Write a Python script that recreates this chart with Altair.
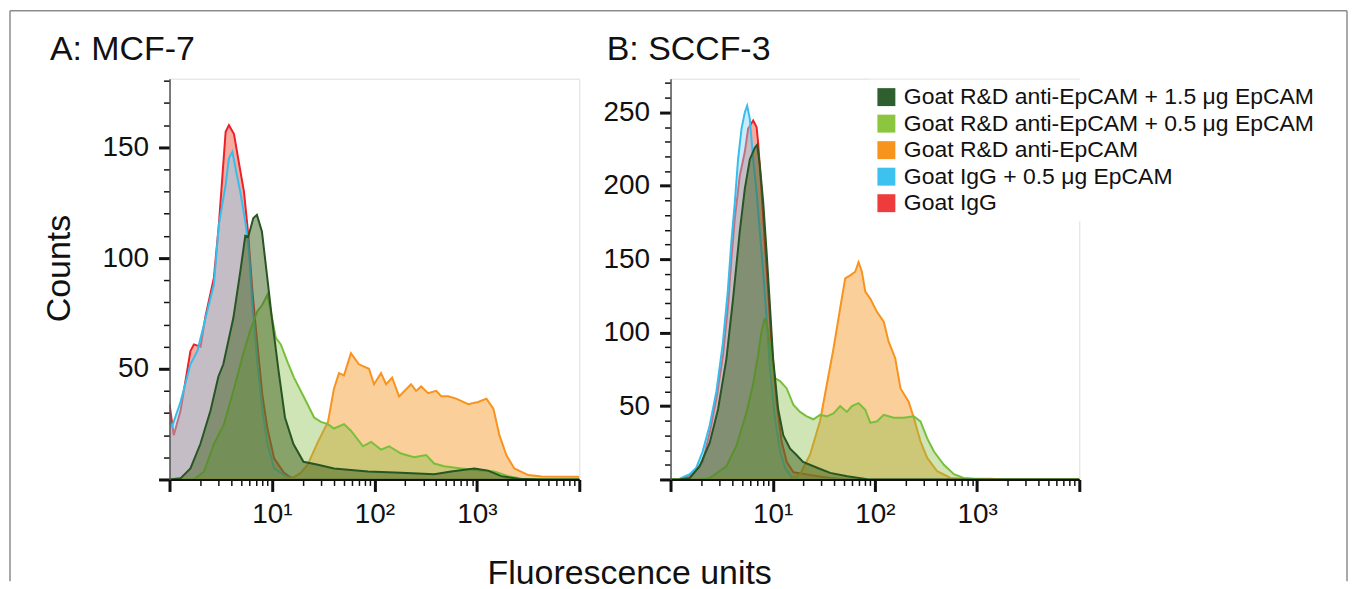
import altair as alt
import pandas as pd

FONT = "Liberation Sans"

series_names = [
    "Goat R&D anti-EpCAM + 1.5 \u03bcg EpCAM",
    "Goat R&D anti-EpCAM + 0.5 \u03bcg EpCAM",
    "Goat R&D anti-EpCAM",
    "Goat IgG + 0.5 \u03bcg EpCAM",
    "Goat IgG",
]
swatch_colors = ["#2f5f2f", "#8cc63f", "#f7941d", "#3ec1ef", "#ee3b3b"]
line_colors = ["#275523", "#78bf3c", "#f7931e", "#36bdee", "#ec2227"]
fill_colors = ["#3f611f", "#86bd47", "#f7941d", "#89d2f1", "#e8452c"]
fill_opacity = [0.5, 0.4, 0.45, 0.45, 0.45]
draw_order = [4, 3, 2, 1, 0]

# ---------------- Panel A: MCF-7 ----------------
A_dg_x = [1.0, 1.28, 1.60, 2.00, 2.51, 3.00, 3.35, 4.20, 4.91, 5.49, 5.87, 6.57, 7.13, 7.98, 8.93, 9.98, 11.6, 13.4, 16.2, 20.3, 27.4, 40.3, 86.5, 182, 383, 562, 944, 1290, 1730, 2540, 4270, 10000]
A_dg_y = [0, 0.5, 5, 16, 31, 46.5, 52, 73, 94, 110, 109.6, 118, 119.5, 112, 92.5, 73, 49, 28, 16, 8, 6.8, 5, 3.6, 3, 2.4, 3.6, 5, 4, 1.5, 0.3, 0, 0]

A_lg_x = [1.0, 1.73, 2.17, 2.71, 3.40, 4.26, 5.33, 6.21, 7.21, 8.07, 9.04, 9.73, 10.9, 12.2, 14.2, 16.4, 20.6, 25.8, 30.0, 35.2, 40.3, 50.5, 59.0, 77.3, 92.7, 116, 139, 182, 244, 320, 383, 480, 703, 1100, 1480, 2030, 2720, 4780, 10000]
A_lg_y = [0, 0, 3.6, 16, 25, 41, 58, 68, 76, 79, 83.5, 76, 64, 61, 53, 46, 37, 28, 26, 25, 23, 25, 22, 15, 17, 13.5, 15, 11.7, 10, 11, 7.2, 6, 5, 4, 3.6, 1.5, 0.3, 0, 0]

A_or_x = [1.0, 12.2, 16.3, 19.1, 22.4, 28.1, 35.2, 40.3, 45.1, 50.5, 59.0, 70.6, 88.5, 99.1, 116, 130, 149, 174, 228, 255, 286, 334, 401, 449, 525, 628, 824, 1030, 1240, 1450, 1660, 1940, 2320, 3180, 4270, 10000]
A_or_y = [0, 0, 1, 3, 6.8, 17, 26, 41, 48, 47, 57, 52, 50, 43, 48, 43, 46, 37.5, 43, 40, 42, 39, 40, 37.6, 37.6, 36.5, 34, 35, 36.5, 32, 20, 11, 5, 2, 1.3, 1.2]

A_bl_x = [1.0, 1.06, 1.28, 1.60, 1.87, 2.25, 2.71, 3.03, 3.53, 3.80, 4.11, 4.43, 4.95, 5.55, 5.97, 6.44, 7.21, 8.07, 9.04, 10.5, 13.1, 16.4, 10000]
A_bl_y = [26, 24, 35, 52, 58, 73, 88, 115, 133, 145, 148, 140, 129, 115, 103, 80, 52, 31, 16, 5, 2, 0, 0]

A_rd_x = [1.0, 1.10, 1.28, 1.60, 1.73, 2.01, 2.25, 2.71, 3.03, 3.27, 3.53, 3.80, 4.26, 4.76, 5.33, 5.83, 6.44, 7.21, 8.07, 9.04, 10.5, 13.1, 16.4, 10000]
A_rd_y = [34, 20, 31, 58, 61, 60, 74, 91, 115, 136, 157, 160, 156, 143, 130, 112, 85, 61, 38, 23, 9.5, 3, 0, 0]

# ---------------- Panel B: SCCF-3 ----------------
B_dg_x = [1.0, 1.22, 1.54, 1.93, 2.42, 2.92, 3.52, 4.09, 4.76, 5.33, 5.97, 6.68, 7.05, 7.48, 8.07, 8.71, 9.38, 10.1, 11.3, 12.7, 14.8, 17.2, 19.8, 27.2, 36.5, 53.6, 84.1, 113, 10000]
B_dg_y = [0, 0, 1, 9, 25, 48, 82, 123, 169, 198, 218, 226, 228, 214, 189, 155, 119, 82, 48, 30, 21, 16.5, 12, 8, 4.5, 2.2, 0.2, 0, 0]

B_lg_x = [1.0, 1.93, 2.42, 3.52, 4.42, 5.55, 6.43, 7.21, 7.78, 8.37, 9.04, 9.75, 10.5, 11.8, 13.7, 15.9, 18.5, 21.5, 25.0, 29.1, 33.8, 39.3, 45.7, 53.2, 59.6, 69.2, 80.5, 90.2, 105, 122, 153, 191, 240, 279, 325, 378, 473, 593, 738, 1080, 10000]
B_lg_y = [0, 0, 1, 9, 23, 46, 65, 85, 101, 110, 101, 82, 69, 67, 62, 51, 46, 43, 41, 44, 43, 45, 50, 46, 50, 52, 47.5, 38.5, 39.6, 44, 42, 42, 43, 39.6, 28, 19, 10, 3.6, 1, 0, 0]

B_or_x = [1.0, 14.8, 18.5, 23.2, 29.1, 33.8, 39.3, 45.7, 51.2, 57.3, 64.1, 69.2, 74.6, 80.5, 90.2, 105, 122, 136, 158, 178, 214, 240, 279, 325, 407, 551, 738, 1360, 1710, 10000]
B_or_y = [0, 0, 3.6, 17, 40, 64.5, 89, 116.6, 137, 139, 141.5, 148, 141.5, 128, 123, 114, 107.5, 94, 82.6, 62, 53, 42, 26, 14.7, 5.6, 1, 0.5, 0.5, 0, 0]

B_bl_x = [1.0, 1.22, 1.54, 1.79, 2.06, 2.42, 2.81, 3.24, 3.63, 3.94, 4.26, 4.58, 4.95, 5.33, 5.62, 5.97, 6.43, 6.95, 7.48, 8.07, 8.71, 9.38, 10.5, 11.8, 13.2, 15.3, 18.5, 10000]
B_bl_y = [0, 0.3, 3.6, 8, 19, 37, 60, 92, 128, 162, 189, 218, 239, 250, 254.6, 245.6, 218, 196, 169, 141.5, 110, 76, 42, 19, 8, 1.4, 0, 0]

B_rd_x = [1.0, 1.22, 1.64, 2.06, 2.42, 2.81, 3.27, 3.66, 3.94, 4.26, 4.76, 5.33, 5.75, 6.44, 6.95, 7.21, 7.78, 8.37, 9.04, 9.75, 10.9, 12.2, 13.7, 15.9, 23.2, 36.5, 57.3, 10000]
B_rd_y = [0, 0, 3.6, 12, 32, 55, 85, 119, 150, 178, 207, 223, 239, 244.5, 240, 229, 196, 162, 128, 92, 53, 26, 12, 5, 3, 1, 0, 0]

x_tick_values = [1, 2, 3, 4, 5, 6, 7, 8, 9,
                 10, 20, 30, 40, 50, 60, 70, 80, 90,
                 100, 200, 300, 400, 500, 600, 700, 800, 900,
                 1000, 2000, 3000, 4000, 5000, 6000, 7000, 8000, 9000, 10000]

MAJOR_X = "datum.value === 1 || datum.value === 10 || datum.value === 100 || datum.value === 1000 || datum.value === 10000"


def x_axis():
    return alt.Axis(
        values=x_tick_values,
        title=None,
        grid=False,
        labelExpr="datum.value === 10 ? '10\u00b9' : datum.value === 100 ? '10\u00b2' : datum.value === 1000 ? '10\u00b3' : ''",
        labelFont=FONT, labelFontSize=28, labelColor="#111",
        labelPadding=9, labelOverlap=False, labelFlush=False,
        tickColor="#111",
        tickSize={"condition": {"test": MAJOR_X, "value": 12}, "value": 6},
        tickWidth={"condition": {"test": MAJOR_X, "value": 3}, "value": 1.5},
        domainColor="#111", domainWidth=2, zindex=1,
    )


def y_axis(vals, title):
    kw = dict(
        values=vals,
        grid=False,
        format="d",
        labelExpr="datum.value % 50 === 0 && datum.value > 0 ? datum.label : ''",
        labelFont=FONT, labelFontSize=28, labelColor="#111",
        labelPadding=10, labelOverlap=False, labelFlush=False,
        tickColor="#111",
        tickSize={"condition": {"test": "datum.value % 50 === 0", "value": 11}, "value": 6},
        tickWidth={"condition": {"test": "datum.value % 50 === 0", "value": 3}, "value": 1.5},
        domainColor="#555", domainWidth=1.5, zindex=1,
    )
    if title:
        kw.update(title=title, titleFont=FONT, titleFontSize=34, titleFontWeight="normal",
                  titleColor="#111", titleX=-110, titleY=190, titleAngle=270,
                  titleAlign="center", titleBaseline="middle")
    else:
        kw.update(title=None)
    return alt.Axis(**kw)


def make_panel(xs, ys, ymax, yvals, width, panel_title, title_x, ytitle, border, legend):
    X = alt.X("fluor:Q", scale=alt.Scale(type="log", domain=[1, 10000]), axis=x_axis())
    Y = alt.Y("count:Q", scale=alt.Scale(domain=[0, ymax], nice=False, zero=True),
              axis=y_axis(yvals, ytitle))
    layers = []
    for i in draw_order:
        df = pd.DataFrame({"fluor": xs[i], "count": ys[i]})
        base = alt.Chart(df)
        layers.append(base.mark_area(color=fill_colors[i], opacity=fill_opacity[i], clip=True)
                      .encode(x=X, y=Y))
        layers.append(base.mark_line(color=line_colors[i], strokeWidth=2, clip=True)
                      .encode(x=X, y=Y))
    one = pd.DataFrame({"label": [panel_title]})
    layers.append(alt.Chart(one).mark_text(align="left", baseline="alphabetic", font=FONT,
                                           fontSize=34, color="#111")
                  .encode(x=alt.value(title_x), y=alt.value(-19), text="label:N"))
    if border:
        # outer figure frame (top, left and right edges)
        rule_style = dict(color="#8c8c8c", strokeWidth=1.5)
        layers.append(alt.Chart(one).mark_rule(**rule_style)
                      .encode(x=alt.value(-160), x2=alt.value(1181), y=alt.value(-68)))
        layers.append(alt.Chart(one).mark_rule(**rule_style)
                      .encode(x=alt.value(-160), y=alt.value(-68), y2=alt.value(504)))
        layers.append(alt.Chart(one).mark_rule(**rule_style)
                      .encode(x=alt.value(1181), y=alt.value(-68), y2=alt.value(504)))
    if legend:
        ldf = pd.DataFrame({"series": series_names})
        layers.append(
            alt.Chart(ldf).transform_filter("false").mark_square(size=324, opacity=1)
            .encode(color=alt.Color(
                "series:N",
                scale=alt.Scale(domain=series_names, range=swatch_colors),
                legend=alt.Legend(
                    title=None, orient="none", legendX=199, legendY=1,
                    direction="vertical", symbolType="square", symbolSize=324,
                    symbolStrokeWidth=0, symbolOpacity=1,
                    labelFont=FONT, labelFontSize=23, labelColor="#111",
                    labelOffset=6, rowPadding=2.6, padding=6, fillColor="white",
                    labelLimit=1000,
                ),
            ))
        )
    return alt.layer(*layers).properties(width=width, height=402)


panel_a = make_panel(
    [A_dg_x, A_lg_x, A_or_x, A_bl_x, A_rd_x],
    [A_dg_y, A_lg_y, A_or_y, A_bl_y, A_rd_y],
    181, list(range(0, 190, 10)), 411, "A: MCF-7", -120, "Counts",
    border=True, legend=False,
)
panel_b = make_panel(
    [B_dg_x, B_lg_x, B_or_x, B_bl_x, B_rd_x],
    [B_dg_y, B_lg_y, B_or_y, B_bl_y, B_rd_y],
    273, list(range(0, 280, 10)), 410, "B: SCCF-3", -64, None,
    border=False, legend=True,
)

chart = (
    alt.hconcat(panel_a, panel_b, spacing=91.5, bounds="flush")
    .resolve_scale(x="independent", y="independent")
    .resolve_legend(color="independent")
    .properties(
        padding=0,
        title=alt.TitleParams(
            "Fluorescence units", orient="bottom", anchor="middle", frame="bounds",
            font=FONT, fontSize=34, fontWeight="normal", color="#111",
            dx=-49, dy=-25, offset=0,
        ),
    )
    .configure_view(stroke="#999999", strokeWidth=1.5)
    .configure(font=FONT, background="white")
)

chart.save("out.html", embed_options={"renderer": "svg", "actions": False})
